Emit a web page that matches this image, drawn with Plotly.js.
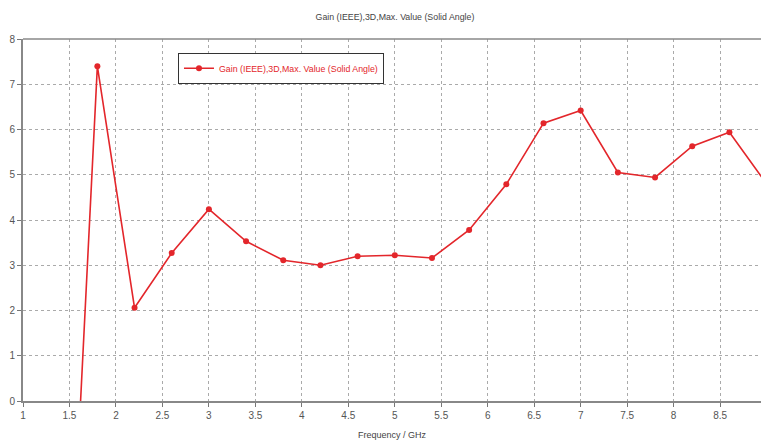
<!DOCTYPE html>
<html>
<head>
<meta charset="utf-8">
<script src="https://cdn.plot.ly/plotly-3.0.1.min.js"></script>
<style>html,body{margin:0;padding:0;background:#fff;}#chart{width:761px;height:440px;}</style>
</head>
<body>
<div id="chart"></div>
<script>
var frequency = [1.4, 1.8, 2.2, 2.6, 3.0, 3.4, 3.8, 4.2, 4.6, 5.0, 5.4, 5.8, 6.2, 6.6, 7.0, 7.4, 7.8, 8.2, 8.6, 9.0];
var gain = [-9.0, 7.40, 2.06, 3.27, 4.24, 3.53, 3.11, 3.00, 3.20, 3.22, 3.16, 3.78, 4.79, 6.14, 6.42, 5.05, 4.94, 5.63, 5.94, 4.80];
var seriesName = 'Gain (IEEE),3D,Max. Value (Solid Angle)';
var xTicks = [1, 1.5, 2, 2.5, 3, 3.5, 4, 4.5, 5, 5.5, 6, 6.5, 7, 7.5, 8, 8.5];
var yTicks = [0, 1, 2, 3, 4, 5, 6, 7, 8];

var font = 'Arial, "Liberation Sans", sans-serif';

var trace = {
  x: frequency, y: gain, name: seriesName,
  type: 'scatter', mode: 'lines+markers',
  line: {color: '#e3262b', width: 1.6},
  marker: {color: '#e3262b', size: 6},
  cliponaxis: true
};

var layout = {
  width: 761, height: 440,
  margin: {l: 23, r: 0, t: 39, b: 39},
  paper_bgcolor: '#ffffff', plot_bgcolor: '#ffffff',
  font: {family: font, size: 10, color: '#555'},
  title: {text: 'Gain (IEEE),3D,Max. Value (Solid Angle)', font: {family: font, size: 8.8, color: '#444'}, x: 0.519, xanchor: 'center', y: 0.962, yanchor: 'middle'},
  showlegend: true,
  legend: {x: 0.21, y: 0.962, xanchor: 'left', yanchor: 'top', bgcolor: '#ffffff', bordercolor: '#333', borderwidth: 1,
           itemwidth: 30, font: {family: font, size: 8.8, color: '#e3262b'}},
  xaxis: {
    range: [1, 8.94], tickvals: xTicks, ticktext: xTicks.map(String),
    showgrid: true, gridcolor: '#aaa', griddash: 'dot', gridwidth: 1,
    showline: true, linecolor: '#888', linewidth: 1.5,
    ticks: 'outside', ticklen: 4, tickcolor: '#777',
    zeroline: false, tickfont: {family: font, size: 10, color: '#555'},
    title: {text: 'Frequency / GHz', font: {family: font, size: 9, color: '#444'}, standoff: 12}
  },
  yaxis: {
    range: [0, 8], tickvals: yTicks, ticktext: yTicks.map(String),
    showgrid: true, gridcolor: '#aaa', griddash: 'dot', gridwidth: 1,
    showline: true, linecolor: '#888', linewidth: 2,
    ticks: 'outside', ticklen: 4, tickcolor: '#777',
    zeroline: false, tickfont: {family: font, size: 10, color: '#555'}
  },
  shapes: [{type: 'line', xref: 'paper', yref: 'paper', x0: 0, x1: 1, y0: 1, y1: 1, line: {color: '#888', width: 1.5}}]
};

Plotly.newPlot('chart', [trace], layout, {displayModeBar: false, staticPlot: true});
</script>
</body>
</html>
